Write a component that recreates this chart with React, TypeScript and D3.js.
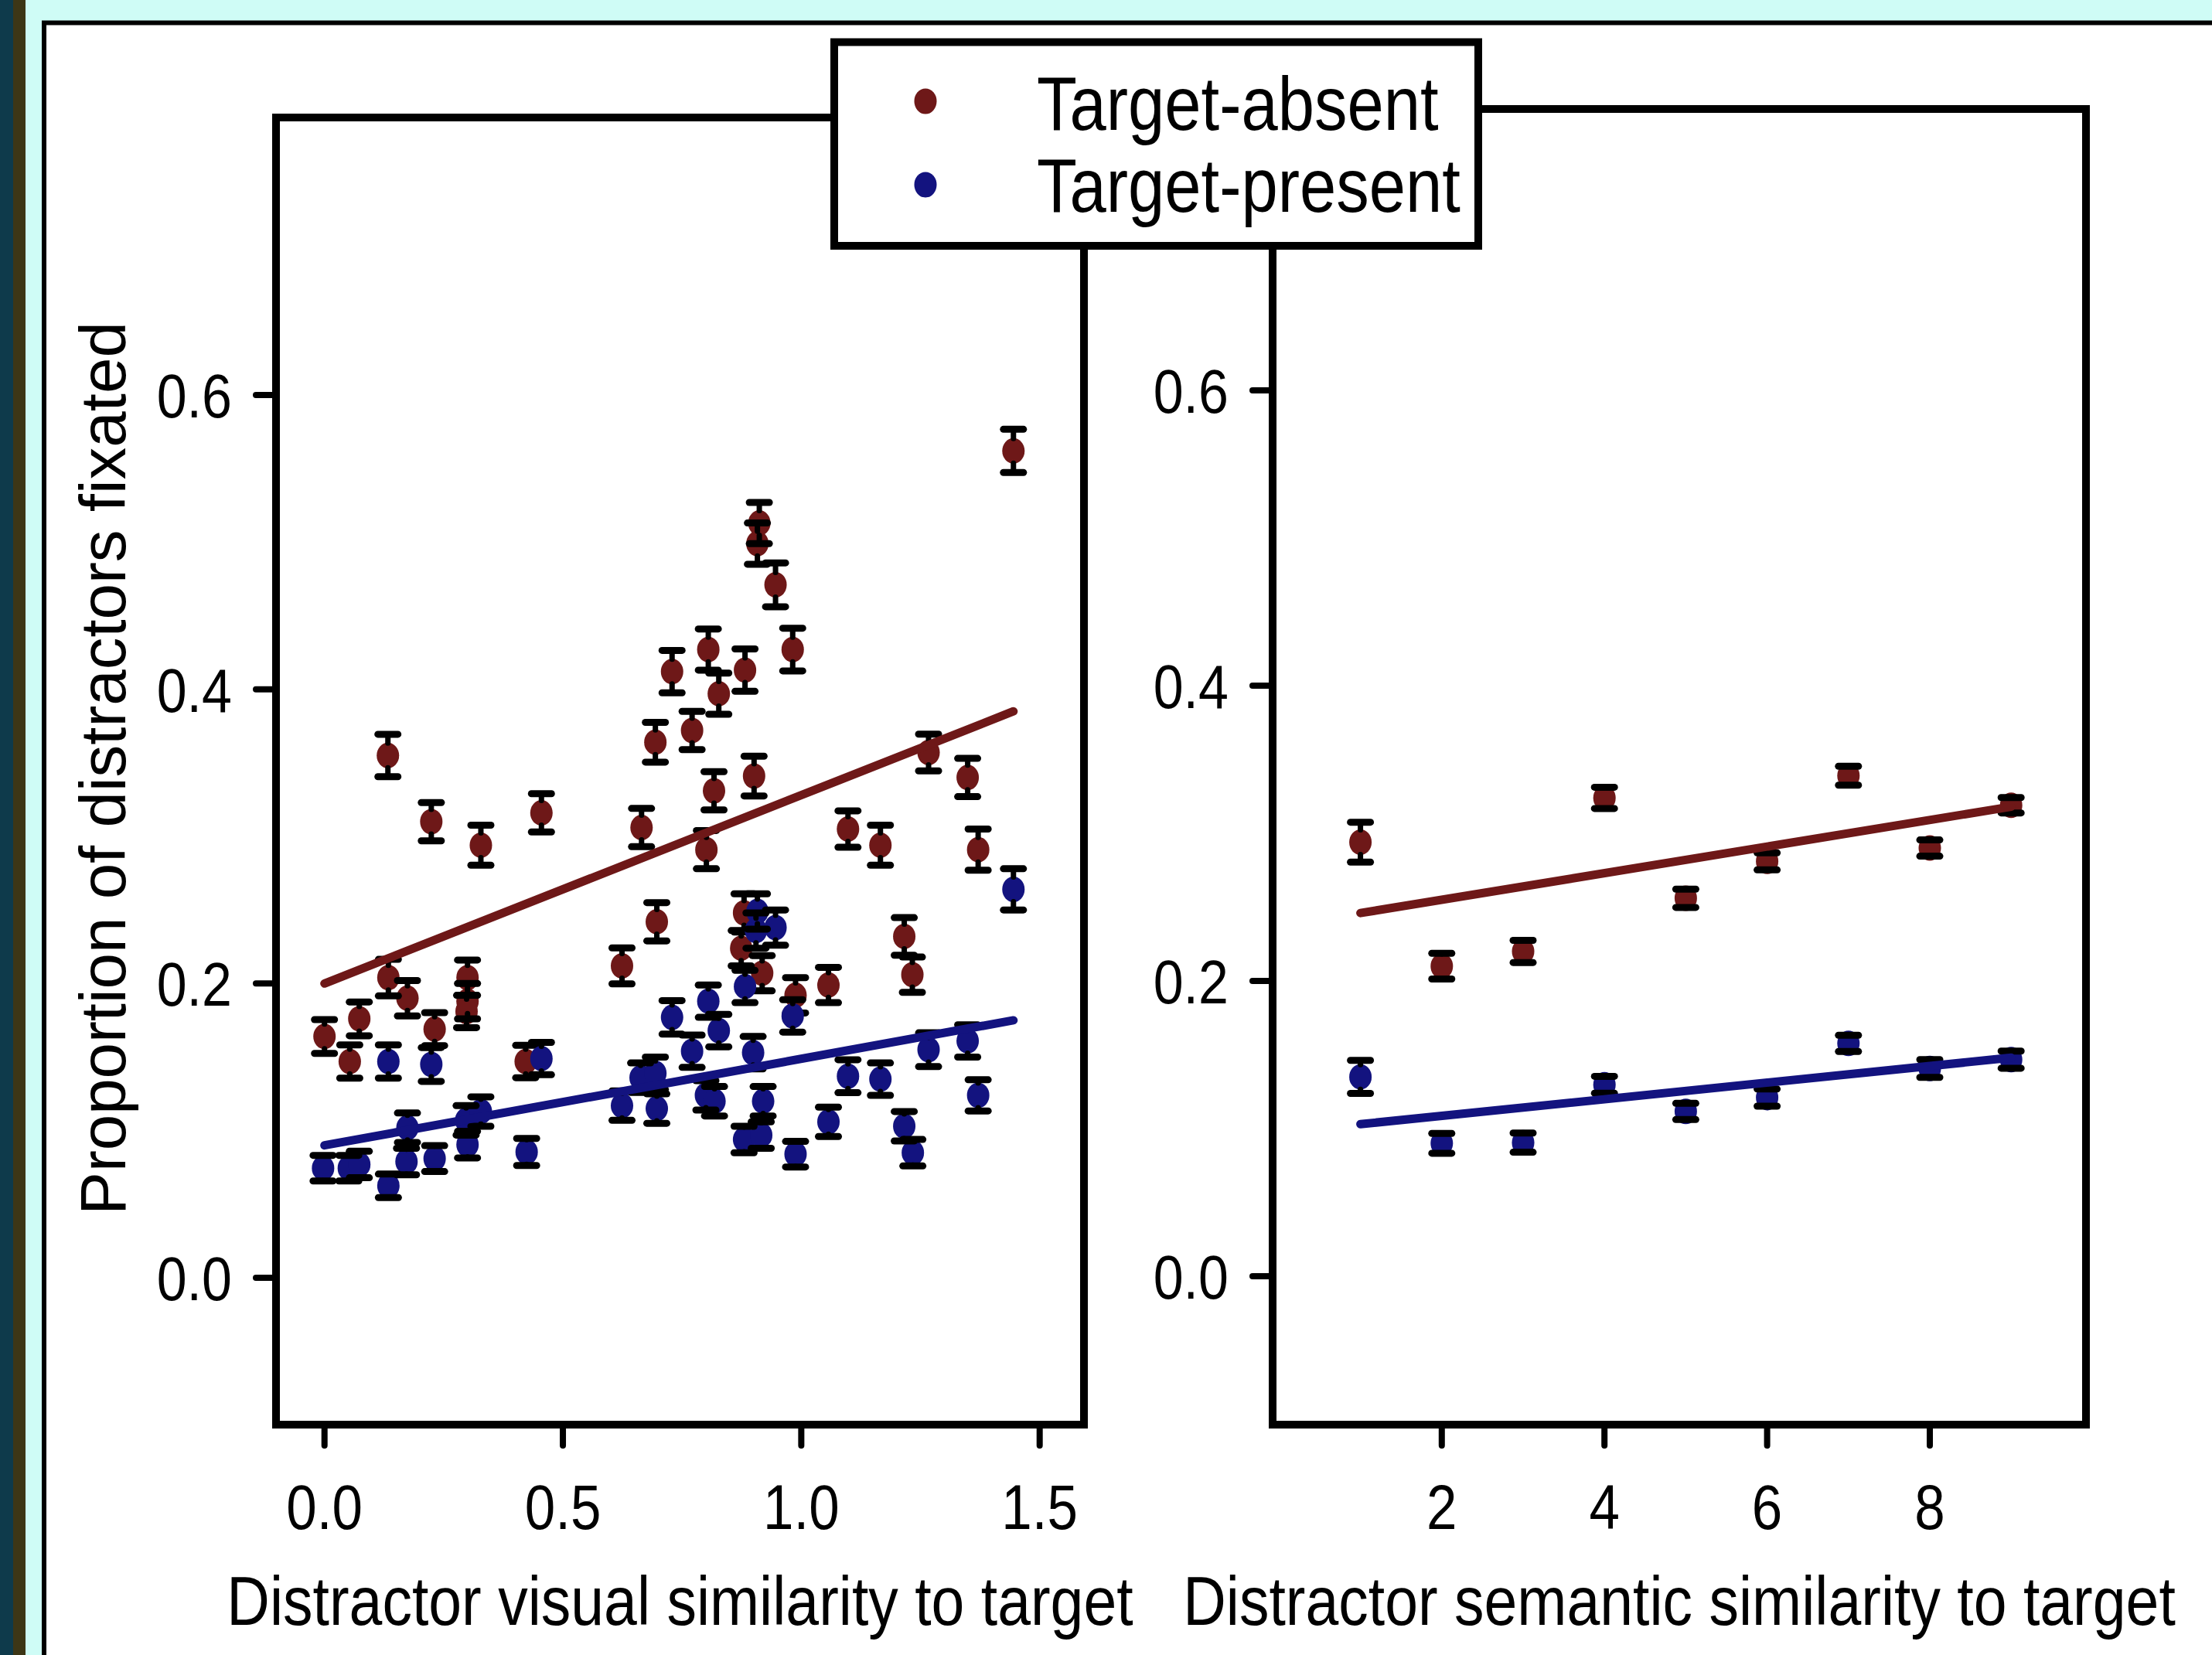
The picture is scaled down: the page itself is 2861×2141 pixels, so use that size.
import React from "react";
import * as d3 from "d3";

// [similarity, proportion fixated, standard error]
const absentVisual = [
  [0.0, 0.164, 0.0115], [0.053, 0.147, 0.0113], [0.073, 0.176, 0.0115],
  [0.133, 0.355, 0.0144], [0.134, 0.204, 0.0124], [0.174, 0.19, 0.012],
  [0.224, 0.31, 0.013], [0.231, 0.169, 0.0112], [0.3, 0.204, 0.012],
  [0.3, 0.188, 0.012], [0.298, 0.181, 0.011], [0.328, 0.294, 0.0136],
  [0.422, 0.147, 0.011], [0.455, 0.316, 0.013], [0.624, 0.212, 0.0122],
  [0.665, 0.306, 0.013], [0.694, 0.364, 0.0135], [0.697, 0.242, 0.013],
  [0.729, 0.412, 0.0144], [0.771, 0.372, 0.013], [0.801, 0.291, 0.013],
  [0.805, 0.427, 0.014], [0.817, 0.331, 0.013], [0.827, 0.397, 0.014],
  [0.874, 0.224, 0.012], [0.88, 0.248, 0.013], [0.882, 0.413, 0.0144],
  [0.901, 0.341, 0.0135], [0.908, 0.499, 0.014], [0.912, 0.513, 0.014],
  [0.918, 0.207, 0.012], [0.946, 0.471, 0.0149], [0.982, 0.427, 0.0145],
  [0.988, 0.192, 0.012], [1.057, 0.199, 0.012], [1.098, 0.305, 0.0124],
  [1.166, 0.294, 0.0136], [1.216, 0.232, 0.0128], [1.233, 0.206, 0.012],
  [1.267, 0.357, 0.0125], [1.349, 0.34, 0.013], [1.371, 0.291, 0.014],
  [1.445, 0.562, 0.0147],
];

const presentVisual = [
  [-0.003, 0.0745, 0.0087], [0.051, 0.0745, 0.0087], [0.073, 0.077, 0.009],
  [0.134, 0.147, 0.0113], [0.134, 0.0625, 0.008], [0.172, 0.079, 0.009],
  [0.174, 0.102, 0.01], [0.224, 0.145, 0.0115], [0.231, 0.081, 0.0088],
  [0.297, 0.107, 0.01], [0.3, 0.0905, 0.009], [0.328, 0.113, 0.01],
  [0.424, 0.0855, 0.0092], [0.455, 0.149, 0.011], [0.624, 0.117, 0.01],
  [0.663, 0.136, 0.01], [0.694, 0.139, 0.011], [0.697, 0.115, 0.01],
  [0.729, 0.177, 0.0114], [0.771, 0.154, 0.011], [0.8, 0.124, 0.01],
  [0.805, 0.188, 0.011], [0.818, 0.12, 0.01], [0.827, 0.168, 0.011],
  [0.88, 0.094, 0.009], [0.882, 0.198, 0.011], [0.899, 0.153, 0.011],
  [0.905, 0.236, 0.012], [0.908, 0.249, 0.012], [0.916, 0.097, 0.009],
  [0.92, 0.12, 0.01], [0.946, 0.238, 0.012], [0.982, 0.178, 0.011],
  [0.988, 0.084, 0.0087], [1.057, 0.106, 0.01], [1.098, 0.137, 0.0112],
  [1.166, 0.135, 0.011], [1.216, 0.103, 0.01], [1.234, 0.085, 0.009],
  [1.267, 0.155, 0.0115], [1.349, 0.161, 0.011], [1.371, 0.124, 0.0106],
  [1.445, 0.264, 0.014],
];

const absentSemantic = [
  [1, 0.294, 0.0135], [2, 0.21, 0.0087], [3, 0.22, 0.0075],
  [4, 0.324, 0.0072], [5, 0.256, 0.0062], [6, 0.281, 0.0058],
  [7, 0.339, 0.0064], [8, 0.29, 0.0055], [9, 0.319, 0.0052],
];

const presentSemantic = [
  [1, 0.135, 0.0112], [2, 0.09, 0.0067], [3, 0.0905, 0.0065],
  [4, 0.1297, 0.0057], [5, 0.1116, 0.0055], [6, 0.121, 0.0058],
  [7, 0.1577, 0.0055], [8, 0.1407, 0.006], [9, 0.1467, 0.0058],
];

const absentVisualFit = [[0, 0.2], [1.445, 0.385]];
const presentVisualFit = [[0, 0.09], [1.445, 0.175]];
const absentSemanticFit = [[1, 0.246], [9, 0.318]];
const presentSemanticFit = [[1, 0.103], [9, 0.148]];

const yTicks = [0, 0.2, 0.4, 0.6];
const visualTicks = [0, 0.5, 1, 1.5];
const semanticTicks = [2, 4, 6, 8];
const seriesNames = ["Target-absent", "Target-present"];

const W = 2861;
const H = 2141;
const FONT = '"Liberation Sans", Arial, Helvetica, sans-serif';
const RED = "#6e1818";
const BLUE = "#13137f";
const K = 1.15; // the source figure is a little stretched vertically
const RX = 14.5;
const RY = 16.5;
const GAP = 16;
const CAP = 13;

const visualX = d3.scaleLinear([0, 1.5], [419.7, 1344.7]);
const visualY = d3.scaleLinear([0, 0.6], [1653, 511]);
const semX = d3.scaleLinear([2, 8], [1864.8, 2496]);
const semY = d3.scaleLinear([0, 0.6], [1651, 505]);

const fmt1 = d3.format(".1f");

function Stretched({ x, y, size, anchor, children }) {
  return (
    <text
      transform={`translate(${x},${y}) scale(1,${K})`}
      fontFamily={FONT}
      fontSize={size}
      textAnchor={anchor}
      fill="#000"
    >
      {children}
    </text>
  );
}

function Series({ data, xs, ys, color }) {
  return (
    <g>
      {data.map((d, i) => (
        <ellipse key={i} cx={xs(d[0])} cy={ys(d[1])} rx={RX} ry={RY} fill={color} />
      ))}
      <g stroke="#000" strokeLinecap="round">
        {data.map((d, i) => {
          const cx = xs(d[0]);
          const cy = ys(d[1]);
          const top = ys(d[1] + d[2]);
          const bot = ys(d[1] - d[2]);
          return (
            <g key={i}>
              {cy - GAP > top && (
                <line x1={cx} x2={cx} y1={cy - GAP} y2={top} strokeWidth={7} />
              )}
              {bot > cy + GAP && (
                <line x1={cx} x2={cx} y1={cy + GAP} y2={bot} strokeWidth={7} />
              )}
              <line x1={cx - CAP} x2={cx + CAP} y1={top} y2={top} strokeWidth={9} />
              <line x1={cx - CAP} x2={cx + CAP} y1={bot} y2={bot} strokeWidth={9} />
            </g>
          );
        })}
      </g>
    </g>
  );
}

function Fit({ pts, xs, ys, color }) {
  const line = d3.line().x((d) => xs(d[0])).y((d) => ys(d[1]));
  return <path d={line(pts)} stroke={color} strokeWidth={11} strokeLinecap="round" fill="none" />;
}

function Panel({ box, xs, ys, xTicks, xFmt, title, absent, present, absentFit, presentFit }) {
  const [l, t, r, b] = box;
  return (
    <g>
      <rect x={l} y={t} width={r - l} height={b - t} fill="#fff" stroke="#000" strokeWidth={10} />
      <Series data={absent} xs={xs} ys={ys} color={RED} />
      <Series data={present} xs={xs} ys={ys} color={BLUE} />
      <Fit pts={absentFit} xs={xs} ys={ys} color={RED} />
      <Fit pts={presentFit} xs={xs} ys={ys} color={BLUE} />
      <g stroke="#000" strokeWidth={8} strokeLinecap="round">
        {yTicks.map((v) => (
          <line key={v} x1={l - 26} x2={l} y1={ys(v)} y2={ys(v)} />
        ))}
        {xTicks.map((v) => (
          <line key={v} x1={xs(v)} x2={xs(v)} y1={b} y2={b + 27} />
        ))}
      </g>
      {yTicks.map((v) => (
        <Stretched key={v} x={l - 57} y={ys(v) + 29} size={70} anchor="end">
          {fmt1(v)}
        </Stretched>
      ))}
      {xTicks.map((v) => (
        <Stretched key={v} x={xs(v)} y={1978} size={71} anchor="middle">
          {xFmt(v)}
        </Stretched>
      ))}
      <Stretched x={(l + r) / 2} y={2102} size={77} anchor="middle">
        {title}
      </Stretched>
    </g>
  );
}

export default function App() {
  return (
    <svg
      width={W}
      height={H}
      viewBox={`0 0 ${W} ${H}`}
      style={{ position: "absolute", left: 0, top: 0 }}
    >
      <rect width={W} height={H} fill="#cffcf6" />
      <rect x={0} y={0} width={17} height={H} fill="#0e3a4b" />
      <rect x={17} y={0} width={16} height={H} fill="#3d3616" />
      <rect x={57} y={30} width={W - 57} height={H - 30} fill="#fff" />
      <path d={`M57,${H} V29.5 H${W}`} stroke="#000" strokeWidth={6} fill="none" />

      <Panel
        box={[357, 152, 1402, 1843]}
        xs={visualX}
        ys={visualY}
        xTicks={visualTicks}
        xFmt={fmt1}
        title="Distractor visual similarity to target"
        absent={absentVisual}
        present={presentVisual}
        absentFit={absentVisualFit}
        presentFit={presentVisualFit}
      />
      <Panel
        box={[1646, 141, 2698, 1843]}
        xs={semX}
        ys={semY}
        xTicks={semanticTicks}
        xFmt={d3.format("d")}
        title="Distractor semantic similarity to target"
        absent={absentSemantic}
        present={presentSemantic}
        absentFit={absentSemanticFit}
        presentFit={presentSemanticFit}
      />

      <text
        transform="translate(162,994) rotate(-90)"
        fontFamily={FONT}
        fontSize={83.5}
        textAnchor="middle"
      >
        Proportion of distractors fixated
      </text>

      <g>
        <rect x={1079} y={54.5} width={833} height={263.5} fill="#fff" stroke="#000" strokeWidth={10} />
        {seriesNames.map((name, i) => (
          <g key={name}>
            <ellipse cx={1197} cy={131 + i * 108} rx={RX} ry={RY} fill={i === 0 ? RED : BLUE} />
            <Stretched x={1341} y={168 + i * 106} size={85} anchor="start">
              {name}
            </Stretched>
          </g>
        ))}
      </g>
    </svg>
  );
}
